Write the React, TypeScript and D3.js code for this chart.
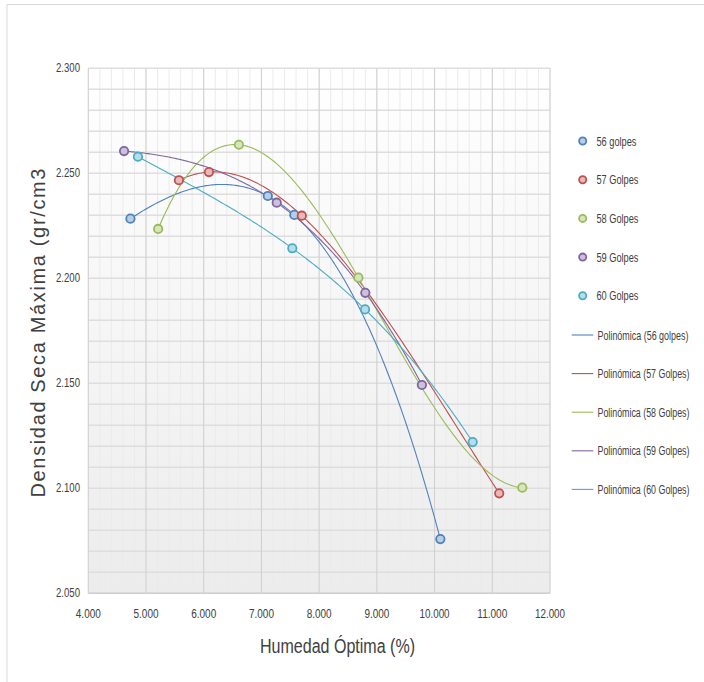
import React from "react";
import * as d3 from "d3";

const seriesNames = ["56 golpes", "57 Golpes", "58 Golpes", "59 Golpes", "60 Golpes"];
const trendNames = [
  "Polinómica (56 golpes)",
  "Polinómica (57 Golpes)",
  "Polinómica (58 Golpes)",
  "Polinómica (59 Golpes)",
  "Polinómica (60 Golpes)",
];
const colors = ["#4F81BD", "#C0504D", "#9BBB59", "#8064A2", "#4BACC6"];

const humedad56 = [4.73, 7.11, 7.57, 10.1];
const densidad56 = [2.2284, 2.2392, 2.2302, 2.0758];
const humedad57 = [5.57, 6.09, 7.7, 11.12];
const densidad57 = [2.2467, 2.2506, 2.2298, 2.0976];
const humedad58 = [5.21, 6.61, 8.68, 11.52];
const densidad58 = [2.2235, 2.2636, 2.2003, 2.1003];
const humedad59 = [4.62, 7.265, 8.8, 9.78];
const densidad59 = [2.2606, 2.236, 2.1931, 2.1492];
const humedad60 = [4.86, 7.535, 8.795, 10.66];
const densidad60 = [2.2579, 2.2143, 2.1852, 2.122];

const xTicks = [4, 5, 6, 7, 8, 9, 10, 11, 12];
const yTicks = [2.05, 2.1, 2.15, 2.2, 2.25, 2.3];

const xs = [humedad56, humedad57, humedad58, humedad59, humedad60];
const ys = [densidad56, densidad57, densidad58, densidad59, densidad60];

function polyfit(x: number[], y: number[], deg: number) {
  const mx = d3.mean(x) as number;
  const n = deg + 1;
  const A: number[][] = Array.from({ length: n }, () => new Array(n + 1).fill(0));
  for (let k = 0; k < x.length; k++) {
    const t = x[k] - mx;
    for (let i = 0; i < n; i++) {
      for (let j = 0; j < n; j++) A[i][j] += Math.pow(t, i + j);
      A[i][n] += y[k] * Math.pow(t, i);
    }
  }
  for (let i = 0; i < n; i++) {
    let p = i;
    for (let r = i + 1; r < n; r++) if (Math.abs(A[r][i]) > Math.abs(A[p][i])) p = r;
    [A[i], A[p]] = [A[p], A[i]];
    for (let r = 0; r < n; r++) {
      if (r === i) continue;
      const f = A[r][i] / A[i][i];
      for (let c = i; c <= n; c++) A[r][c] -= f * A[i][c];
    }
  }
  const coef = A.map((row, i) => row[n] / row[i]);
  return (v: number) => coef.reduce((s, c, i) => s + c * Math.pow(v - mx, i), 0);
}

const SANS = "'Liberation Sans', Arial, sans-serif";

let ctx: CanvasRenderingContext2D | null = null;
function measure(text: string, size: number) {
  if (!ctx) ctx = document.createElement("canvas").getContext("2d");
  if (!ctx) return text.length * size * 0.55;
  ctx.font = `${size}px ${SANS}`;
  return ctx.measureText(text).width;
}

function Squeezed(props: {
  x: number;
  y: number;
  text: string;
  size: number;
  width: number;
  anchor?: "start" | "middle" | "end";
  fill?: string;
}) {
  const { x, y, text, size, width, anchor = "start", fill = "#404040" } = props;
  const s = width / measure(text, size);
  return (
    <text
      transform={`translate(${x},${y}) scale(${s},1)`}
      textAnchor={anchor}
      fontFamily={SANS}
      fontSize={size}
      fill={fill}
    >
      {text}
    </text>
  );
}

export default function App() {
  const left = 88.3, right = 550, top = 68.3, bottom = 593.3;
  const x = d3.scaleLinear().domain([4, 12]).range([left, right]);
  const y = d3.scaleLinear().domain([2.05, 2.3]).range([bottom, top]);
  const fmt = d3.format(".3f");
  const minorX = d3.range(4, 12.0001, 0.2);
  const minorY = d3.range(2.05, 2.3001, 0.01);
  const line = d3
    .line<[number, number]>()
    .x((d) => x(d[0]))
    .y((d) => y(d[1]));

  return (
    <svg
      width={704}
      height={682}
      style={{ position: "absolute", left: 0, top: 0, background: "#fff" }}
    >
      <defs>
        <linearGradient id="bg" x1="0" y1="0" x2="0" y2="1">
          <stop offset="0" stopColor="#ffffff" />
          <stop offset="1" stopColor="#ececec" />
        </linearGradient>
      </defs>
      <line x1={7} y1={4.5} x2={704} y2={4.5} stroke="#d9d9d9" />
      <line x1={7} y1={4.5} x2={7} y2={682} stroke="#d9d9d9" />
      <rect x={left} y={top} width={right - left} height={bottom - top} fill="url(#bg)" />
      {minorX.map((v, i) => (
        <line key={"mx" + i} x1={x(v)} x2={x(v)} y1={top} y2={bottom} stroke="#ebebeb" strokeWidth={1} />
      ))}
      {minorY.map((v, i) => (
        <line key={"my" + i} x1={left} x2={right} y1={y(v)} y2={y(v)} stroke="#dedede" strokeWidth={1.5} />
      ))}
      {xTicks.map((v) => (
        <line key={"gx" + v} x1={x(v)} x2={x(v)} y1={top} y2={bottom} stroke="#cfcfcf" strokeWidth={1} />
      ))}
      <line x1={left} x2={right} y1={bottom} y2={bottom} stroke="#cfcfcf" strokeWidth={1.5} />
      {xTicks.map((v) => (
        <Squeezed key={"tx" + v} x={x(v)} y={618} text={fmt(v)} size={12} width={v >= 10 ? 30 : 25} anchor="middle" />
      ))}
      {yTicks.map((v) => (
        <Squeezed key={"ty" + v} x={80} y={y(v) + 4} text={fmt(v)} size={12} width={24} anchor="end" />
      ))}
      {xs.map((xv, s) => {
        const f = polyfit(xv, ys[s], 3);
        const [a, b] = d3.extent(xv) as [number, number];
        const pts: [number, number][] = d3.range(0, 201).map((i) => {
          const t = a + ((b - a) * i) / 200;
          return [t, f(t)];
        });
        return <path key={"tr" + s} d={line(pts) || ""} fill="none" stroke={colors[s]} strokeWidth={1.1} />;
      })}
      {xs.map((xv, s) =>
        xv.map((v, i) => (
          <circle
            key={"p" + s + "-" + i}
            cx={x(v)}
            cy={y(ys[s][i])}
            r={4.2}
            fill={d3.interpolateRgb(colors[s], "#ffffff")(0.6)}
            stroke={colors[s]}
            strokeWidth={1.8}
          />
        ))
      )}
      {seriesNames.map((n, i) => (
        <g key={"lg" + i}>
          <circle
            cx={582.7}
            cy={141 + i * 38.7}
            r={3.6}
            fill={d3.interpolateRgb(colors[i], "#ffffff")(0.6)}
            stroke={colors[i]}
            strokeWidth={1.8}
          />
          <Squeezed x={596.5} y={141 + i * 38.7 + 4.5} text={n} size={12.5} width={i === 0 ? 40 : 42} />
        </g>
      ))}
      {trendNames.map((n, i) => (
        <g key={"lt" + i}>
          <line x1={571.7} x2={593.3} y1={335 + i * 38.6} y2={335 + i * 38.6} stroke={colors[i]} strokeWidth={1.1} />
          <Squeezed x={597.5} y={335 + i * 38.6 + 4.5} text={n} size={12.5} width={i === 0 ? 91 : 92} />
        </g>
      ))}
      <text
        transform="translate(45,333) rotate(-90)"
        textAnchor="middle"
        fontFamily={SANS}
        fontSize={20}
        fill="#404040"
        textLength={329}
        lengthAdjust="spacing"
      >
        Densidad Seca Máxima (gr/cm3
      </text>
      <Squeezed x={337.5} y={653} text="Humedad Óptima (%)" size={21} width={155} anchor="middle" />
    </svg>
  );
}
